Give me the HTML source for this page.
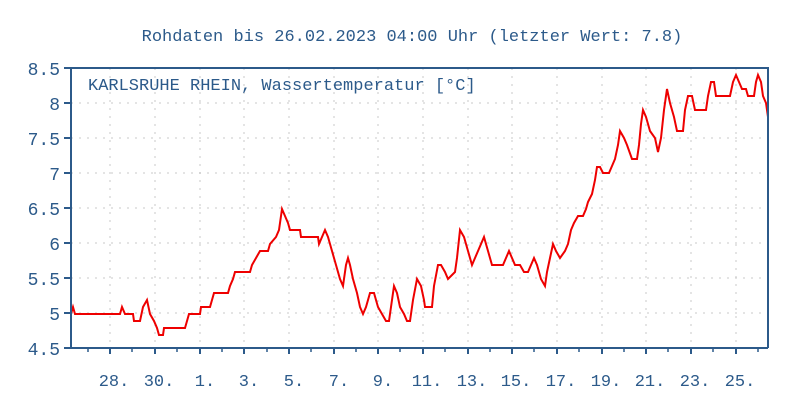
<!DOCTYPE html>
<html><head><meta charset="utf-8"><style>
html,body{margin:0;padding:0;background:#fff}
svg{display:block}
text{font-family:"Liberation Mono","DejaVu Sans Mono",monospace;fill:#2c5a8a}
</style></head><body>
<svg width="800" height="400" viewBox="0 0 800 400">
<text x="412" y="41" font-size="17" text-anchor="middle">Rohdaten bis 26.02.2023 04:00 Uhr (letzter Wert: 7.8)</text>
<g stroke="#c8c8c8" stroke-width="1" stroke-dasharray="2,6">
<line x1="71" x2="768" y1="103" y2="103"/><line x1="71" x2="768" y1="138" y2="138"/>
<line x1="71" x2="768" y1="173" y2="173"/><line x1="71" x2="768" y1="208" y2="208"/>
<line x1="71" x2="768" y1="243" y2="243"/><line x1="71" x2="768" y1="278" y2="278"/>
<line x1="71" x2="768" y1="313" y2="313"/>
<line x1="110" x2="110" y1="68" y2="348"/><line x1="155" x2="155" y1="68" y2="348"/>
<line x1="200" x2="200" y1="68" y2="348"/><line x1="244" x2="244" y1="68" y2="348"/>
<line x1="289" x2="289" y1="68" y2="348"/><line x1="334" x2="334" y1="68" y2="348"/>
<line x1="378" x2="378" y1="68" y2="348"/><line x1="423" x2="423" y1="68" y2="348"/>
<line x1="468" x2="468" y1="68" y2="348"/><line x1="512" x2="512" y1="68" y2="348"/>
<line x1="557" x2="557" y1="68" y2="348"/><line x1="602" x2="602" y1="68" y2="348"/>
<line x1="646" x2="646" y1="68" y2="348"/><line x1="691" x2="691" y1="68" y2="348"/>
<line x1="736" x2="736" y1="68" y2="348"/>
</g>
<polyline fill="none" stroke="#ee0000" stroke-width="2" stroke-linejoin="miter" points="
71,314 73,307 75,314 120,314 122,307 125,314 133,314 134,321 140,321 143,307 147,300 150,314 154,321 157,328 159,335 163,335 164,328 185,328 187,321 189,314 200,314 201,307 210,307 212,300 214,293 228,293 230,286 233,279 235,272 250,272 252,265 256,258 260,251 268,251 270,244 276,237 279,230 282,209 285,216 288,223 290,230 300,230 301,237 318,237 319,244 322,237 325,230 328,237 332,251 336,265 340,279 343,286 346,265 348,258 350,265 353,279 357,293 360,307 363,314 366,307 370,293 374,293 378,307 382,314 386,321 389,321 391,307 394,286 397,293 400,307 404,314 407,321 410,321 413,300 417,279 421,286 424,300 425,307 432,307 434,286 438,265 441,265 445,272 448,279 455,272 457,258 460,230 464,237 468,251 472,265 475,258 478,251 481,244 484,237 488,251 492,265 503,265 506,258 509,251 512,258 515,265 520,265 524,272 528,272 531,265 534,258 537,265 541,279 545,286 547,272 550,258 553,244 556,251 560,258 565,251 568,244 571,230 574,223 578,216 583,216 586,209 588,202 592,194 595,180 597,167 600,167 603,173 609,173 612,166 615,159 618,145 620,131 624,138 627,145 632,159 637,159 639,145 641,124 643,110 646,117 650,131 655,138 658,152 661,138 664,110 667,89 670,103 674,117 677,131 683,131 685,110 688,96 692,96 695,110 706,110 708,96 711,82 714,82 716,96 730,96 733,82 736,75 739,82 742,89 746,89 748,96 754,96 756,82 758,75 761,82 763,96 766,103 768,117"/>
<g stroke="#2c5a8a" stroke-width="2" fill="none">
<polyline points="71,68 768,68 768,348"/>
<line x1="71" y1="67" x2="71" y2="349"/>
<line x1="70" y1="348" x2="768" y2="348"/>
</g>
<g stroke="#2c5a8a" stroke-width="2">
<line x1="64" x2="71" y1="68" y2="68"/><line x1="64" x2="71" y1="103" y2="103"/>
<line x1="64" x2="71" y1="138" y2="138"/><line x1="64" x2="71" y1="173" y2="173"/>
<line x1="64" x2="71" y1="208" y2="208"/><line x1="64" x2="71" y1="243" y2="243"/>
<line x1="64" x2="71" y1="278" y2="278"/><line x1="64" x2="71" y1="313" y2="313"/>
<line x1="64" x2="71" y1="348" y2="348"/>
<line x1="110" x2="110" y1="348" y2="354"/><line x1="155" x2="155" y1="348" y2="354"/>
<line x1="200" x2="200" y1="348" y2="354"/><line x1="244" x2="244" y1="348" y2="354"/>
<line x1="289" x2="289" y1="348" y2="354"/><line x1="334" x2="334" y1="348" y2="354"/>
<line x1="378" x2="378" y1="348" y2="354"/><line x1="423" x2="423" y1="348" y2="354"/>
<line x1="468" x2="468" y1="348" y2="354"/><line x1="512" x2="512" y1="348" y2="354"/>
<line x1="557" x2="557" y1="348" y2="354"/><line x1="602" x2="602" y1="348" y2="354"/>
<line x1="646" x2="646" y1="348" y2="354"/><line x1="691" x2="691" y1="348" y2="354"/>
<line x1="736" x2="736" y1="348" y2="354"/>
</g>
<g stroke="#2c5a8a" stroke-width="1.5">
<line x1="88" x2="88" y1="348" y2="352"/><line x1="132" x2="132" y1="348" y2="352"/>
<line x1="177" x2="177" y1="348" y2="352"/><line x1="222" x2="222" y1="348" y2="352"/>
<line x1="267" x2="267" y1="348" y2="352"/><line x1="311" x2="311" y1="348" y2="352"/>
<line x1="356" x2="356" y1="348" y2="352"/><line x1="400" x2="400" y1="348" y2="352"/>
<line x1="445" x2="445" y1="348" y2="352"/><line x1="490" x2="490" y1="348" y2="352"/>
<line x1="534" x2="534" y1="348" y2="352"/><line x1="579" x2="579" y1="348" y2="352"/>
<line x1="624" x2="624" y1="348" y2="352"/><line x1="668" x2="668" y1="348" y2="352"/>
<line x1="713" x2="713" y1="348" y2="352"/><line x1="758" x2="758" y1="348" y2="352"/>
</g>
<text x="88" y="90" font-size="17">KARLSRUHE RHEIN, Wassertemperatur [°C]</text>
<g font-size="18" text-anchor="end">
<text x="60" y="75">8.5</text><text x="60" y="110">8</text><text x="60" y="145">7.5</text>
<text x="60" y="180">7</text><text x="60" y="215">6.5</text><text x="60" y="250">6</text>
<text x="60" y="285">5.5</text><text x="60" y="320">5</text><text x="60" y="355">4.5</text>
</g>
<g font-size="17" text-anchor="middle">
<text x="114" y="386">28.</text><text x="159" y="386">30.</text><text x="205" y="386">1.</text>
<text x="249" y="386">3.</text><text x="294" y="386">5.</text><text x="339" y="386">7.</text>
<text x="383" y="386">9.</text><text x="427" y="386">11.</text><text x="472" y="386">13.</text>
<text x="516" y="386">15.</text><text x="561" y="386">17.</text><text x="606" y="386">19.</text>
<text x="650" y="386">21.</text><text x="695" y="386">23.</text><text x="740" y="386">25.</text>
</g>
</svg>
</body></html>
